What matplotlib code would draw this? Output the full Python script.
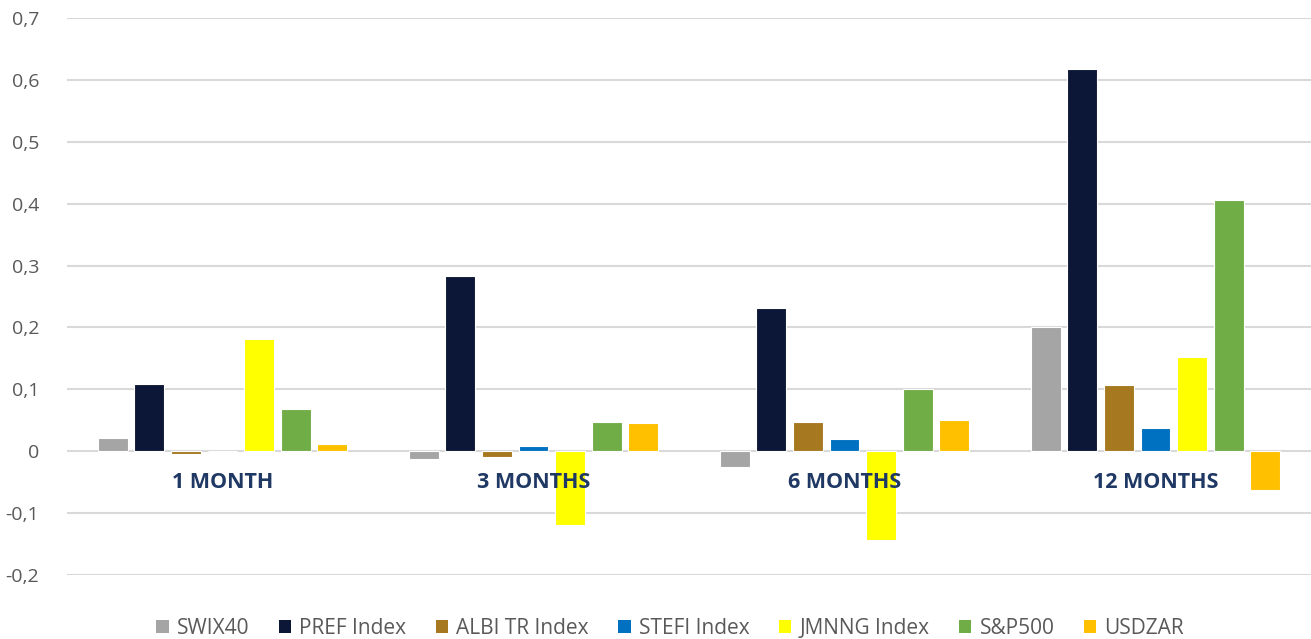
import matplotlib
matplotlib.use("Agg")
import matplotlib.pyplot as plt
from matplotlib.patches import Patch
from matplotlib.ticker import FuncFormatter
import numpy as np

categories = ["1 MONTH", "3 MONTHS", "6 MONTHS", "12 MONTHS"]
series_names = ["SWIX40", "PREF Index", "ALBI TR Index", "STEFI Index", "JMNNG Index", "S&P500", "USDZAR"]
swix40 = [0.021, -0.013, -0.026, 0.201]
pref = [0.108, 0.283, 0.231, 0.617]
albi = [-0.005, -0.009, 0.047, 0.107]
stefi = [0.0, 0.008, 0.019, 0.037]
jmnng = [0.181, -0.120, -0.144, 0.153]
sp500 = [0.069, 0.048, 0.100, 0.406]
usdzar = [0.011, 0.045, 0.050, -0.063]
series_values = [swix40, pref, albi, stefi, jmnng, sp500, usdzar]
colors = ["#A5A5A5", "#0C1737", "#A67820", "#0070C0", "#FFFF00", "#70AD47", "#FFC000"]
yticks = [-0.2, -0.1, 0, 0.1, 0.2, 0.3, 0.4, 0.5, 0.6, 0.7]

plt.rcParams['font.family'] = ['Open Sans', 'DejaVu Sans']

fig = plt.figure(figsize=(13.11, 6.39), dpi=100)
ax = fig.add_axes([0.0511, 0.1002, 0.9489, 0.8716])

x = np.arange(len(categories))
pitch = 0.1175
width = 0.096
for i, (vals, c) in enumerate(zip(series_values, colors)):
    ax.bar(x + (i - 3) * pitch, vals, width=width, color=c, edgecolor="white",
           linewidth=0.8, zorder=3)

ax.set_xlim(-0.5, len(categories) - 0.5)
ax.set_ylim(-0.2, 0.7)
ax.set_yticks(yticks)

def fmt(v, pos):
    if abs(v) < 1e-9:
        return "0"
    return ("%.1f" % v).replace(".", ",")

ax.yaxis.set_major_formatter(FuncFormatter(fmt))
ax.tick_params(axis='y', length=0, pad=20, labelsize=14, labelcolor="#595959")
ax.tick_params(axis='x', length=0, labelbottom=False)
ax.grid(axis='y', color="#D9D9D9", linewidth=1.5, zorder=0)
for s in ax.spines.values():
    s.set_visible(False)

for i, cat in enumerate(categories):
    ax.annotate(cat, xy=(i, 0), xytext=(0, -31), textcoords='offset pixels',
                ha='center', va='center', fontsize=15.5, fontweight='bold',
                color="#1F3864", zorder=4)

handles = [Patch(facecolor=c, edgecolor='none', label=n) for n, c in zip(series_names, colors)]
fig.legend(handles=handles, loc='center', bbox_to_anchor=(670 / 1311, 1 - 628 / 639),
           ncol=7, frameon=False, fontsize=15, labelcolor="#595959",
           handlelength=0.6, handleheight=0.6, handletextpad=0.4, columnspacing=1.4)

fig.savefig("out.png", dpi=100)
